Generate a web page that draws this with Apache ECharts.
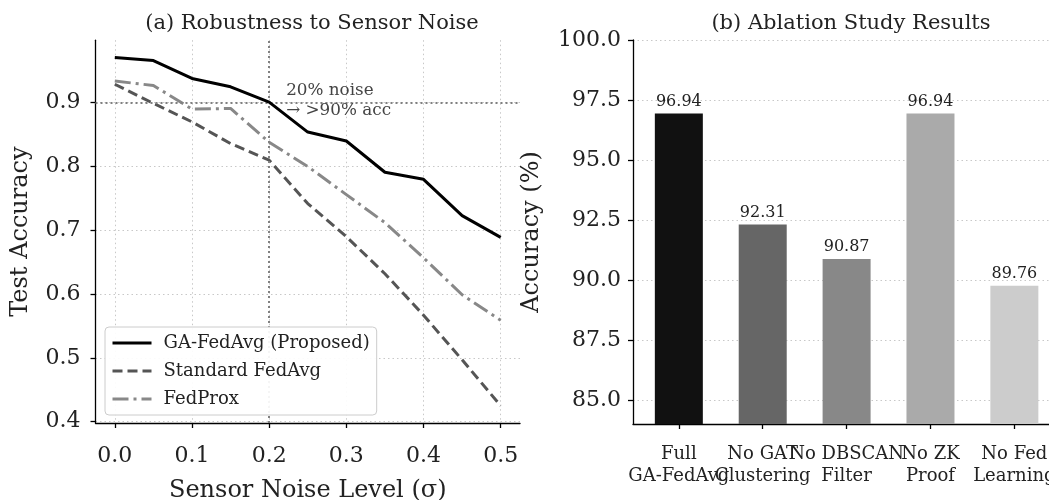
<!DOCTYPE html>
<html>
<head>
<meta charset="utf-8">
<script src="https://cdn.jsdelivr.net/npm/echarts@6/dist/echarts.min.js"></script>
<style>
  html, body { margin: 0; padding: 0; background: #fff; }
  #main { width: 1049px; height: 500px; }
</style>
</head>
<body>
<div id="main"></div>
<script>
// (a) 噪声鲁棒性
var noiseLevels = [0.0, 0.05, 0.1, 0.15, 0.2, 0.25, 0.3, 0.35, 0.4, 0.45, 0.5];
var gaFedAvg    = [0.971, 0.966, 0.938, 0.925, 0.901, 0.854, 0.840, 0.791, 0.780, 0.723, 0.689];
var stdFedAvg   = [0.929, 0.899, 0.870, 0.836, 0.810, 0.742, 0.690, 0.632, 0.567, 0.497, 0.425];
var fedProx     = [0.934, 0.927, 0.890, 0.891, 0.838, 0.800, 0.756, 0.712, 0.657, 0.599, 0.559];
var xTicks = [0.0, 0.1, 0.2, 0.3, 0.4, 0.5];
var yTicks = [0.4, 0.5, 0.6, 0.7, 0.8, 0.9];
var noiseMark = 0.2;
var accMark = 0.9;

// (b) 消融实验
var ablationNames = ['Full\nGA-FedAvg', 'No GAT\nClustering', 'No DBSCAN\nFilter', 'No ZK\nProof', 'No Fed\nLearning'];
var ablationAcc = [96.94, 92.31, 90.87, 96.94, 89.76];
var barColors = ['#111111', '#666666', '#888888', '#aaaaaa', '#cccccc'];
var accTicks = [85.0, 87.5, 90.0, 92.5, 95.0, 97.5, 100.0];

var FONT = 'DejaVu Serif';

function pairs(xs, ys) {
    var out = [];
    for (var i = 0; i < xs.length; i++) out.push([xs[i], ys[i]]);
    return out;
}

var barData = [];
for (var i = 0; i < ablationAcc.length; i++) {
    barData.push({ value: ablationAcc[i], itemStyle: { color: barColors[i] } });
}

var axisLineStyle = { color: '#000', width: 1.3 };
var gridLine = { show: true, lineStyle: { color: '#c8c8c8', width: 1, type: [1.5, 3] } };

var myChart = echarts.init(document.getElementById('main'));
var option = {
    animation: false,
    textStyle: { fontFamily: FONT },
    title: [
        { text: '(a) Robustness to Sensor Noise', left: 307, top: 8, textAlign: 'center',
          textStyle: { fontFamily: FONT, fontSize: 21, fontWeight: 'normal', color: '#222' } },
        { text: '(b) Ablation Study Results', left: 846, top: 8, textAlign: 'center',
          textStyle: { fontFamily: FONT, fontSize: 21, fontWeight: 'normal', color: '#222' } }
    ],
    grid: [
        { left: 95.5, right: 529, top: 40.2, bottom: 77, outerBoundsMode: 'none', containLabel: false },
        // 右图坐标框（轴线、y刻度）
        { left: 633, right: -11, top: 40, bottom: 76, outerBoundsMode: 'none', containLabel: false },
        // 右图柱子（类目带）
        { left: 636.9, right: -7.3, top: 40, bottom: 76, outerBoundsMode: 'none', containLabel: false }
    ],
    legend: {
        orient: 'vertical',
        left: 105, top: 327, z: 10,
        padding: [7, 7, 7, 6],
        itemWidth: 39, itemHeight: 18, itemGap: 10,
        backgroundColor: 'rgba(255,255,255,0.92)',
        borderColor: '#cccccc', borderWidth: 1, borderRadius: 4,
        itemStyle: { opacity: 0 },
        lineStyle: { width: 3 },
        textStyle: { fontFamily: FONT, fontSize: 18, color: '#222', padding: [0, 0, 0, 7] },
        data: ['GA-FedAvg (Proposed)', 'Standard FedAvg', 'FedProx']
    },
    xAxis: [
        {
            type: 'value', gridIndex: 0, min: -0.025, max: 0.525,
            name: 'Sensor Noise Level (σ)', nameLocation: 'middle', nameGap: 56,
            nameTextStyle: { fontFamily: FONT, fontSize: 24, color: '#222' },
            axisLine: { show: true, onZero: false, lineStyle: axisLineStyle },
            axisTick: { show: true, length: 5, lineStyle: axisLineStyle, customValues: xTicks },
            axisLabel: { fontFamily: FONT, fontSize: 22, color: '#222', margin: 22, customValues: xTicks,
                         formatter: function (v) { return v.toFixed(1); } },
            splitLine: gridLine
        },
        {
            type: 'value', gridIndex: 1, min: 0, max: 1,
            axisLine: { show: true, onZero: false, lineStyle: axisLineStyle },
            axisTick: { show: false }, axisLabel: { show: false }, splitLine: { show: false }
        },
        {
            type: 'category', gridIndex: 2, data: ablationNames,
            axisLine: { show: false },
            axisTick: { show: true, length: 5, alignWithLabel: true, lineStyle: axisLineStyle },
            axisLabel: { interval: 0, fontFamily: FONT, fontSize: 18, color: '#222', margin: 20, lineHeight: 21.5 },
            splitLine: { show: false }
        }
    ],
    yAxis: [
        {
            type: 'value', gridIndex: 0, min: 0.398, max: 0.998,
            name: 'Test Accuracy', nameLocation: 'middle', nameGap: 63,
            nameTextStyle: { fontFamily: FONT, fontSize: 24, color: '#222' },
            axisLine: { show: true, onZero: false, lineStyle: axisLineStyle },
            axisTick: { show: true, length: 5, lineStyle: axisLineStyle, customValues: yTicks },
            axisLabel: { fontFamily: FONT, fontSize: 22, color: '#222', margin: 15, customValues: yTicks,
                         formatter: function (v) { return v.toFixed(1); } },
            splitLine: gridLine
        },
        {
            type: 'value', gridIndex: 1, min: 84, max: 100,
            name: 'Accuracy (%)', nameLocation: 'middle', nameGap: 89,
            nameTextStyle: { fontFamily: FONT, fontSize: 24, color: '#222' },
            axisLine: { show: true, onZero: false, lineStyle: axisLineStyle },
            axisTick: { show: true, length: 5, lineStyle: axisLineStyle, customValues: accTicks },
            axisLabel: { fontFamily: FONT, fontSize: 22, color: '#222', margin: 12, customValues: accTicks,
                         formatter: function (v) { return v.toFixed(1); } },
            splitLine: gridLine
        },
        {
            type: 'value', gridIndex: 2, min: 84, max: 100, show: false
        }
    ],
    series: [
        {
            name: 'GA-FedAvg (Proposed)', type: 'line', xAxisIndex: 0, yAxisIndex: 0,
            data: pairs(noiseLevels, gaFedAvg), symbol: 'none', z: 5,
            lineStyle: { color: '#000000', width: 3 }, itemStyle: { color: '#000000' }
        },
        {
            name: 'Standard FedAvg', type: 'line', xAxisIndex: 0, yAxisIndex: 0,
            data: pairs(noiseLevels, stdFedAvg), symbol: 'none', z: 4,
            lineStyle: { color: '#555555', width: 3, type: [10, 5] }, itemStyle: { color: '#555555' }
        },
        {
            name: 'FedProx', type: 'line', xAxisIndex: 0, yAxisIndex: 0,
            data: pairs(noiseLevels, fedProx), symbol: 'none', z: 4,
            lineStyle: { color: '#888888', width: 3, type: [16, 5, 3, 5] }, itemStyle: { color: '#888888' }
        },
        {
            // 参考线 + 注释
            type: 'line', xAxisIndex: 0, yAxisIndex: 0, data: [], symbol: 'none', z: 3,
            markLine: {
                silent: true, symbol: 'none', label: { show: false },
                lineStyle: { color: '#808080', width: 2, type: [2, 3] },
                data: [{ xAxis: noiseMark }, { yAxis: accMark }]
            },
            markPoint: {
                silent: true, symbol: 'circle', symbolSize: 0,
                label: {
                    show: true, position: 'right', distance: 0, align: 'left', verticalAlign: 'middle',
                    fontFamily: FONT, fontSize: 16.8, color: '#444', lineHeight: 20,
                    formatter: '20% noise\n→ >90% acc'
                },
                data: [{ coord: [noiseMark + 0.022, accMark + 0.004] }]
            }
        },
        {
            type: 'bar', xAxisIndex: 2, yAxisIndex: 2, barWidth: 48,
            data: barData,
            label: {
                show: true, position: 'top', distance: 4,
                fontFamily: FONT, fontSize: 16, color: '#222',
                formatter: function (p) { return p.value.toFixed(2); }
            }
        }
    ]
};
myChart.setOption(option);
</script>
</body>
</html>
